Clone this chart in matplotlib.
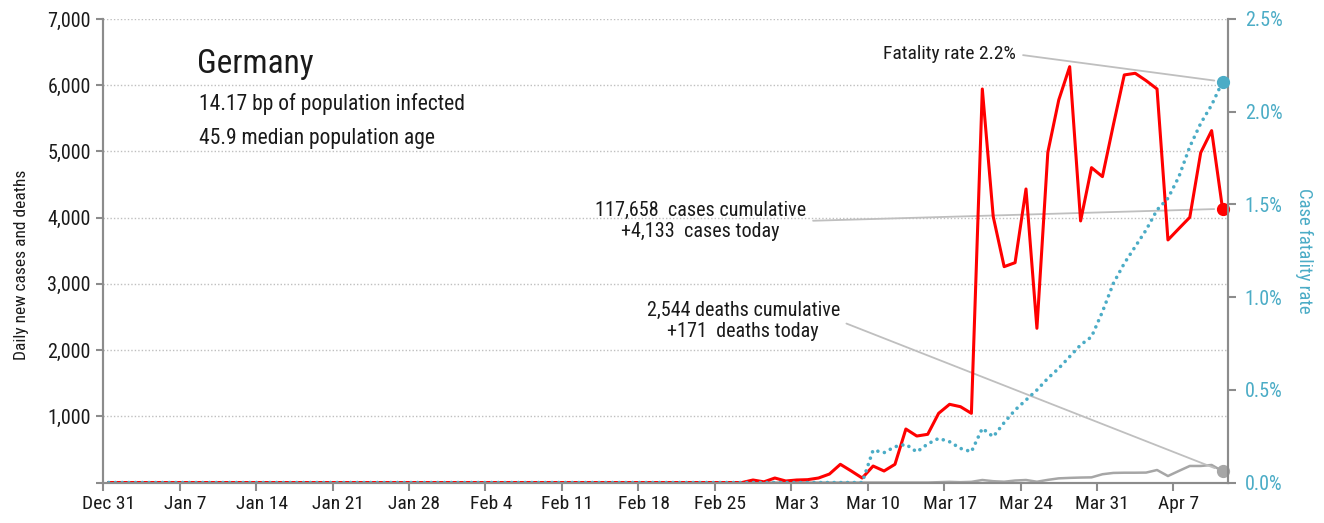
import matplotlib
matplotlib.use("Agg")
import matplotlib.pyplot as plt
from matplotlib import font_manager
import numpy as np

# --- fonts: pick a narrow sans if one is there ---
installed = {f.name for f in font_manager.fontManager.ttflist}
narrow = ["Roboto Condensed", "Arial Narrow", "Liberation Sans Narrow", "Archivo Narrow",
          "PT Sans Narrow", "IBM Plex Sans Condensed", "Fira Sans Condensed",
          "Encode Sans Condensed", "Asap Condensed", "Pragati Narrow"]
FONT = next((f for f in narrow if f in installed), "DejaVu Sans")
plt.rcParams["font.family"] = [FONT, "DejaVu Sans"]

# --- data (one value per day, Dec 31 .. Apr 11) ---
cases = [
    0, 0, 0, 0, 0, 0, 0, 0, 0, 0,
    0, 0, 0, 0, 0, 0, 0, 0, 0, 0,
    0, 0, 0, 0, 0, 0, 0, 0, 0, 0,
    0, 0, 0, 0, 0, 0, 0, 0, 0, 0,
    0, 0, 0, 0, 0, 0, 0, 0, 0, 0,
    0, 0, 0, 0, 0, 0, 0, 0, 0, 38,
    10, 68, 23, 38, 43, 68, 128, 275, 174, 68,
    249, 174, 275, 808, 702, 728, 1045, 1181, 1145, 1045,
    5943, 4015, 3260, 3320, 4433, 2329, 4987, 5777, 6280, 3950,
    4755, 4619, 5400, 6155, 6180, 6069, 5943, 3663, 3835, 4005,
    4981, 5314, 4133,
]
deaths = [
    0, 0, 0, 0, 0, 0, 0, 0, 0, 0,
    0, 0, 0, 0, 0, 0, 0, 0, 0, 0,
    0, 0, 0, 0, 0, 0, 0, 0, 0, 0,
    0, 0, 0, 0, 0, 0, 0, 0, 0, 0,
    0, 0, 0, 0, 0, 0, 0, 0, 0, 0,
    0, 0, 0, 0, 0, 0, 0, 0, 0, 0,
    0, 0, 0, 0, 0, 0, 0, 0, 0, 0,
    0, 0, 0, 0, 0, 0, 5, 10, 5, 10,
    38, 20, 12, 30, 38, 12, 40, 63, 70, 75,
    78, 125, 145, 148, 148, 150, 189, 98, 175, 250,
    250, 265, 171,
]
# case fatality rate, percent
cfr = [
    0, 0, 0, 0, 0, 0, 0, 0, 0, 0,
    0, 0, 0, 0, 0, 0, 0, 0, 0, 0,
    0, 0, 0, 0, 0, 0, 0, 0, 0, 0,
    0, 0, 0, 0, 0, 0, 0, 0, 0, 0,
    0, 0, 0, 0, 0, 0, 0, 0, 0, 0,
    0, 0, 0, 0, 0, 0, 0, 0, 0, 0,
    0, 0, 0, 0, 0, 0, 0, 0, 0, 0,
    0.175, 0.161, 0.193, 0.206, 0.165, 0.208, 0.238, 0.220, 0.184, 0.166,
    0.292, 0.247, 0.323, 0.391, 0.445, 0.499, 0.562, 0.616, 0.679, 0.742,
    0.786, 0.921, 1.074, 1.182, 1.272, 1.362, 1.470, 1.533, 1.649, 1.811,
    1.937, 2.036, 2.162,
]
week_labels = ["Dec 31", "Jan 7", "Jan 14", "Jan 21", "Jan 28", "Feb 4", "Feb 11",
               "Feb 18", "Feb 25", "Mar 3", "Mar 10", "Mar 17", "Mar 24", "Mar 31", "Apr 7"]

COUNTRY = "Germany"
INFO = ["14.17 bp of population infected", "45.9 median population age"]
CFR_TXT = "Fatality rate 2.2%"
CASES_TXT = "117,658  cases cumulative\n+4,133  cases today"
DEATHS_TXT = "2,544 deaths cumulative\n+171  deaths today"

RED = "#FF0000"
CYAN = "#4BACC6"
GREY = "#A6A6A6"
AXIS = "#8C8C8C"
LEAD = "#BFBFBF"
INK = "#1A1A1A"

n = len(cases)
x = np.arange(n) + 0.5   # each day sits in the middle of its slot

fig = plt.figure(figsize=(13.24, 5.23), dpi=100)
ax = fig.add_axes([0.078, 0.0774, 0.8495, 0.8863])
ax2 = ax.twinx()

ax.set_xlim(0, n)
ax.set_ylim(0, 7000)
ax2.set_ylim(0, 2.5)

# gridlines
ax.set_yticks(np.arange(0, 7001, 1000))
ax.set_yticklabels([""] + [f"{v:,}" for v in range(1000, 7001, 1000)])
ax.yaxis.grid(True, linestyle=(0, (1, 1.5)), color="#BFBFBF", linewidth=1.0)
ax.set_axisbelow(True)

# lines
ax2.plot(x, cfr, color=CYAN, lw=2.6, linestyle=(0, (0.01, 1.85)),
         dash_capstyle="round", zorder=2)
ax.plot(x, deaths, color=GREY, lw=1.8, zorder=3)
ax.plot(x, cases, color=RED, lw=2.2, zorder=4)
ax.plot(x[-1], deaths[-1], "o", color=GREY, ms=8.5, zorder=5, clip_on=False)
ax.plot(x[-1], cases[-1], "o", color=RED, ms=8.5, zorder=5, clip_on=False)
ax2.plot(x[-1], cfr[-1], "o", color=CYAN, ms=8.5, zorder=5, clip_on=False)

# x axis: ticks at slot edges, labels in the middle of the slot
ax.set_xticks(np.arange(0, n, 7))
ax.set_xticklabels([])
ax.set_xticks(np.arange(0, n, 7) + 0.5, minor=True)
ax.set_xticklabels(week_labels, minor=True, fontsize=14, color=INK)
ax.tick_params(axis="x", which="major", length=6, width=1.5, color=AXIS, direction="out")
ax.tick_params(axis="x", which="minor", length=0, pad=9)
ax.tick_params(axis="y", length=5, width=1.5, color=AXIS, labelsize=14.5,
               labelcolor=INK, pad=4)

ax2.set_yticks(np.arange(0, 2.51, 0.5))
ax2.set_yticklabels([f"{v:.1f}%" for v in np.arange(0, 2.51, 0.5)])
ax2.tick_params(axis="y", length=6, width=1.5, color=AXIS, labelsize=14.5,
                labelcolor=CYAN, pad=6)

for a in (ax, ax2):
    a.spines["top"].set_visible(False)
    for s in ("left", "right", "bottom"):
        a.spines[s].set_color(AXIS)
        a.spines[s].set_linewidth(1.5)

ax.set_ylabel("Daily new cases and deaths", fontsize=12.5, color=INK)
ax.yaxis.set_label_coords(-0.066, 0.47)
ax2.set_ylabel("Case fatality rate", fontsize=13.5, color=CYAN, rotation=270, labelpad=22)

# title block
ax.text(8.6, 6320, COUNTRY, fontsize=24, va="center", ha="left", color=INK)
ax.text(8.8, 5717, INFO[0], fontsize=15.5, va="center", ha="left", color=INK)
ax.text(8.8, 5188, INFO[1], fontsize=15.5, va="center", ha="left", color=INK)

# leader annotations
lead = dict(arrowstyle="-", color=LEAD, lw=1.3, relpos=(1, 0.5), shrinkA=3, shrinkB=6)
ax2.annotate(CFR_TXT, xy=(x[-1], cfr[-1]), xytext=(83.6, 2.31), fontsize=14,
             ha="right", va="center", arrowprops=lead, color=INK)
ax.annotate(CASES_TXT, xy=(x[-1], cases[-1]), xytext=(54.7, 3950), fontsize=14.5,
            ha="center", va="center", multialignment="center", arrowprops=lead,
            linespacing=1.2, color=INK)
ax.annotate(DEATHS_TXT, xy=(x[-1], deaths[-1]), xytext=(58.6, 2440), fontsize=14.5,
            ha="center", va="center", multialignment="center", arrowprops=lead,
            linespacing=1.2, color=INK)

fig.savefig("out.png", dpi=100)
